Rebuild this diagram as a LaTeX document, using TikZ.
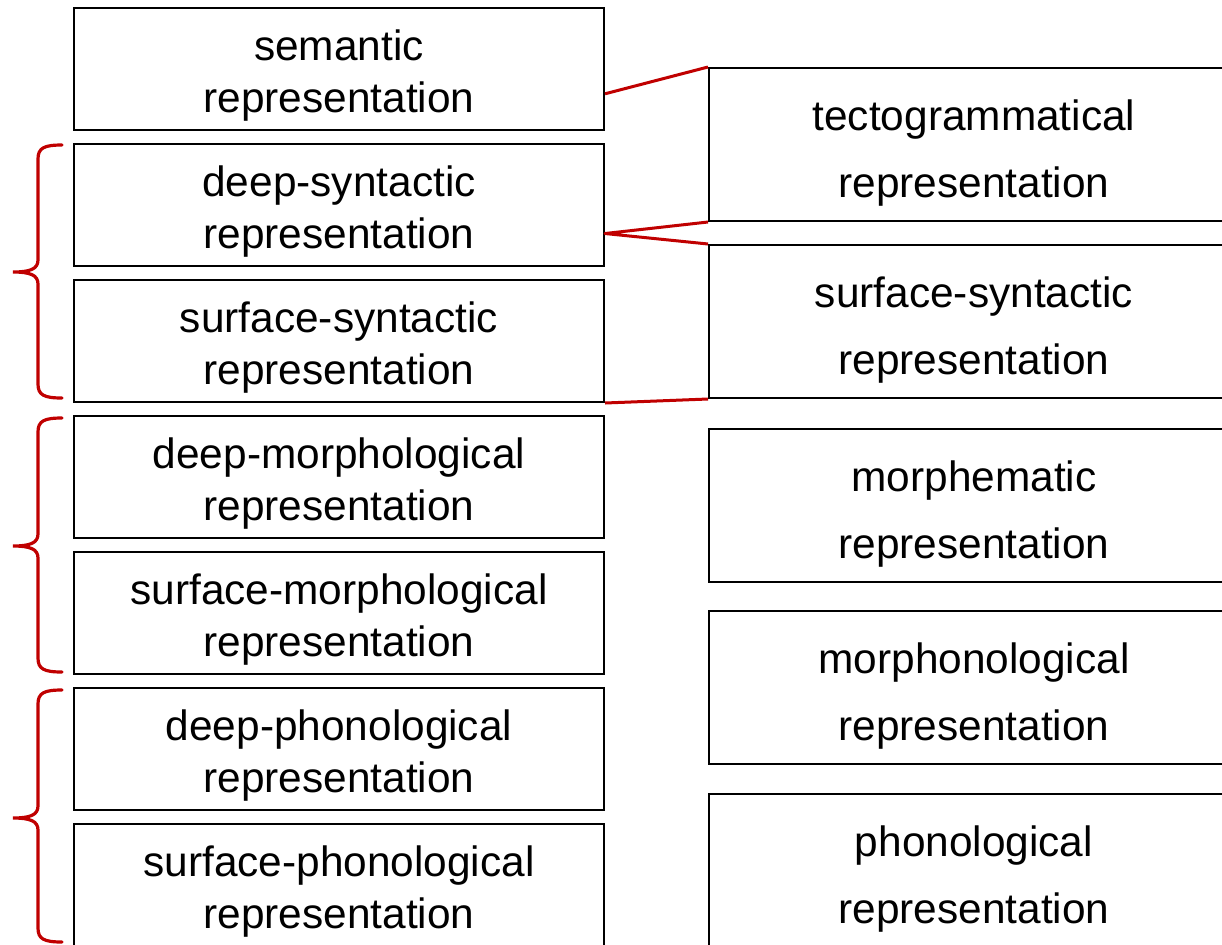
\documentclass[tikz,border=0pt]{standalone}
\usepackage{fontspec}
\setmainfont{Liberation Sans}
\usetikzlibrary{calc}
\begin{document}
\begin{tikzpicture}[x=0.5pt,y=-0.5pt,
  level/.style={draw,line width=1pt,minimum width=265pt,minimum height=61pt,inner sep=0pt,
    align=center,text height=48.4pt,text depth=4.5pt,font=\fontsize{21.2}{26}\selectfont},
  plevel/.style={draw,line width=1pt,minimum width=265pt,minimum height=76.5pt,inner sep=0pt,
    align=center,text height=57pt,text depth=4.5pt,font=\fontsize{21.2}{33.5}\selectfont},
  link/.style={draw=mtred,line width=1.5pt,line join=round},
  group/.style={draw=mtred,line width=1.6pt,line cap=round}]
  \definecolor{mtred}{HTML}{C00000}
  \clip (0,0) rectangle (1222,944);
  \node [level] (sem) at (339,69) {semantic\\representation};
  \node [level] (dsynt) at (339,205) {deep-syntactic\\representation};
  \node [level] (ssynt) at (339,341) {surface-syntactic\\representation};
  \node [level] (dmorph) at (339,477) {deep-morphological\\representation};
  \node [level] (smorph) at (339,613) {surface-morphological\\representation};
  \node [level] (dphon) at (339,749) {deep-phonological\\representation};
  \node [level] (sphon) at (339,885) {surface-phonological\\representation};
  \node [plevel] (tecto) at (974,144.5) {tectogrammatical\\representation};
  \node [plevel] (surfsynt) at (974,321.5) {surface-syntactic\\representation};
  \node [plevel] (morphem) at (974,505.5) {morphematic\\representation};
  \node [plevel] (morphon) at (974,687.5) {morphonological\\representation};
  \node [plevel] (phon) at (974,870.5) {phonological\\representation};
  \draw [link] ($(sem.north east)!0.7!(sem.south east)$) -- (tecto.north west);
  \draw [link] (tecto.south west) -- ($(dsynt.north east)!0.73!(dsynt.south east)$)
    -- (surfsynt.north west);
  \draw [link] (ssynt.south east) -- (surfsynt.south west);
  \foreach \top/\tip/\bot in {145/272/398, 418/546/672, 690/818/942}
    \draw [group] (62,\top) .. controls (44,\top) and (38,\top+3) .. (38,\top+14)
      -- (38,\tip-12) .. controls (38,\tip-3) and (30,\tip) .. (13,\tip)
      .. controls (30,\tip) and (38,\tip+3) .. (38,\tip+12)
      -- (38,\bot-14) .. controls (38,\bot-3) and (44,\bot) .. (62,\bot);
\end{tikzpicture}
\end{document}
